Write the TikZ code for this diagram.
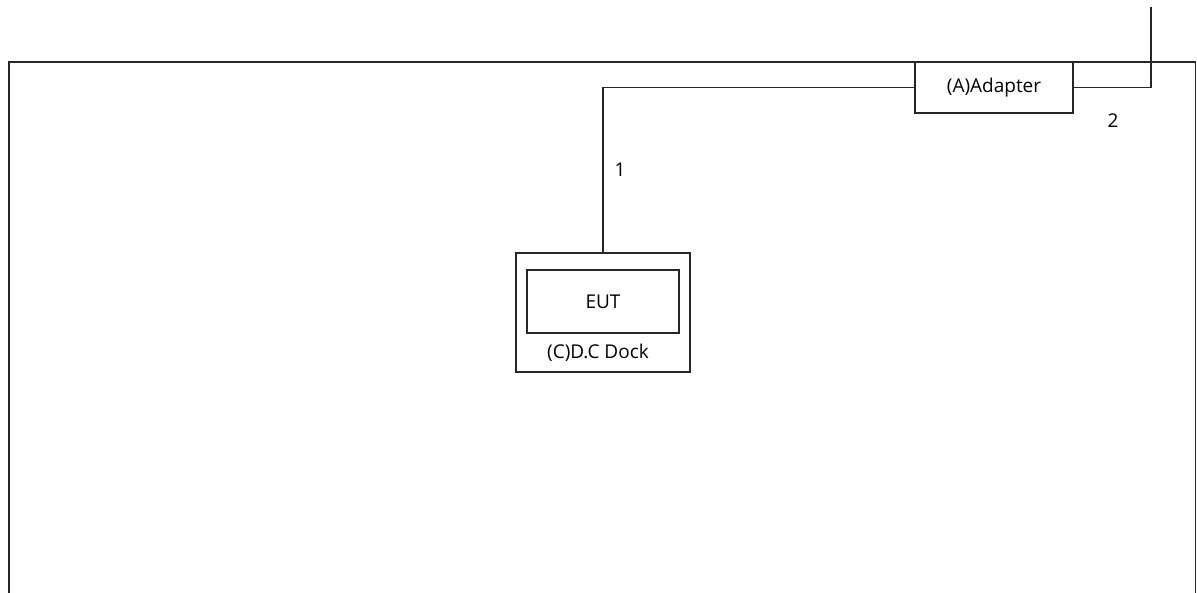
\documentclass[tikz,border=0pt]{standalone}
\usepackage{fontspec}
\setmainfont{Open Sans}
\begin{document}
\begin{tikzpicture}[x=1pt,y=-1pt,
  line/.style={draw=black!85,line width=1.2pt},
  box/.style={line,rectangle,inner sep=0pt,font=\fontsize{19}{22}\selectfont},
  lbl/.style={inner sep=0pt,font=\fontsize{19}{22}\selectfont}]
\useasboundingbox (0,0) rectangle (1197,592);
\begin{scope}
\clip (0,0) rectangle (1197,592);
\draw[line] (9,650) -- (9,62) -- (1195.5,62) -- (1195.5,650);
\end{scope}
\node[box,minimum width=158pt,minimum height=51pt] (adapter) at (994,87.5) {(A)Adapter};
\node[box,minimum width=174pt,minimum height=119pt] (dock) at (603,312.5) {};
\node[box,minimum width=152pt,minimum height=63pt] (eut) at (603,301.5) {EUT};
\node[lbl] (docklbl) at (598,353) {(C)D.C Dock};
\coordinate (top) at (1151,7);
\draw[line] (adapter.west) -| (dock.north);
\draw[line] (adapter.east) -| (top);
\node[lbl] (l1) at (620,170) {1};
\node[lbl] (l2) at (1113,121) {2};
\end{tikzpicture}
\end{document}
